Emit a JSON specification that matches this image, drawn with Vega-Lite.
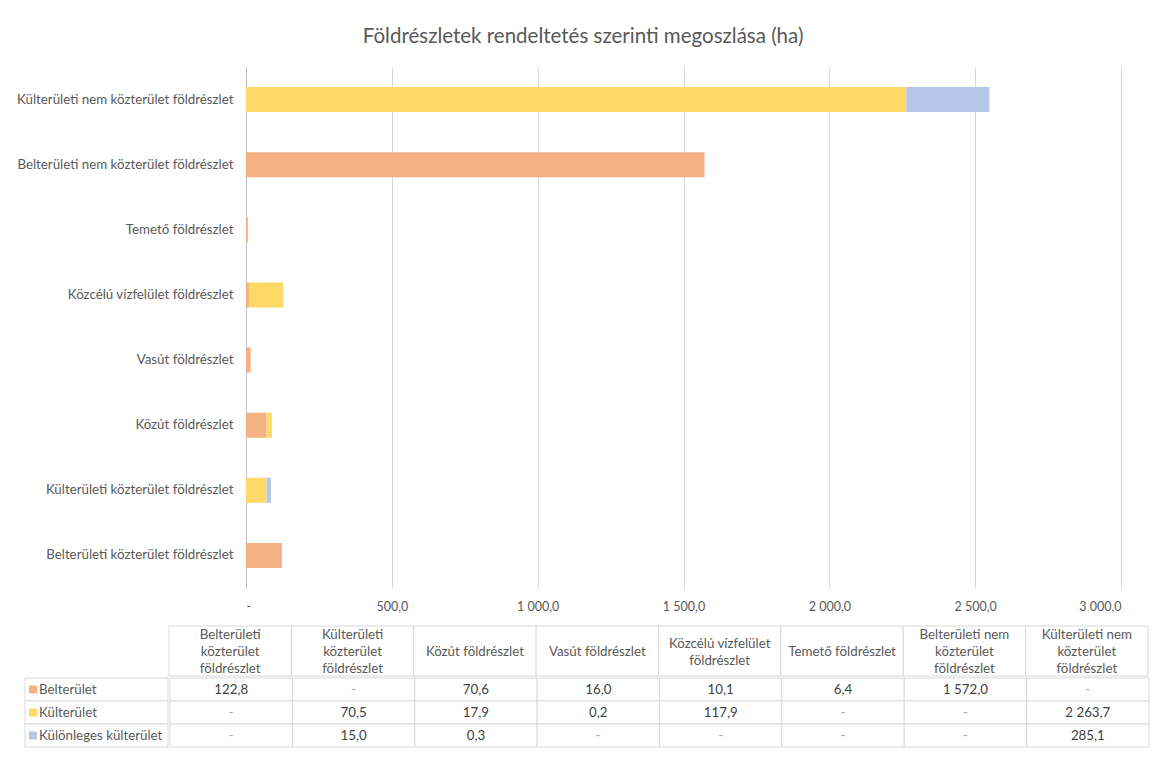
{
  "$schema": "https://vega.github.io/schema/vega-lite/v6.json",
  "padding": {"left": 16, "top": 26, "right": 4, "bottom": 8},
  "background": "white",
  "config": {
    "locale": {"number": {"decimal": ",", "thousands": " ", "grouping": [3], "currency": ["", " Ft"]}},
    "font": "Lato",
    "view": {"stroke": null},
    "text": {"font": "Lato"}
  },
  "title": {"text": "Földrészletek rendeltetés szerinti megoszlása (ha)", "fontSize": 20.5, "font": "Lato", "fontWeight": "normal", "color": "#595959", "offset": 20, "anchor": "middle"},
  "datasets": {
    "d": [
      {"cat": "Belterületi közterület földrészlet", "series": "Belterület", "value": 122.8},
      {"cat": "Belterületi közterület földrészlet", "series": "Külterület", "value": null},
      {"cat": "Belterületi közterület földrészlet", "series": "Különleges külterület", "value": null},
      {"cat": "Külterületi közterület földrészlet", "series": "Belterület", "value": null},
      {"cat": "Külterületi közterület földrészlet", "series": "Külterület", "value": 70.5},
      {"cat": "Külterületi közterület földrészlet", "series": "Különleges külterület", "value": 15.0},
      {"cat": "Közút földrészlet", "series": "Belterület", "value": 70.6},
      {"cat": "Közút földrészlet", "series": "Külterület", "value": 17.9},
      {"cat": "Közút földrészlet", "series": "Különleges külterület", "value": 0.3},
      {"cat": "Vasút földrészlet", "series": "Belterület", "value": 16.0},
      {"cat": "Vasút földrészlet", "series": "Külterület", "value": 0.2},
      {"cat": "Vasút földrészlet", "series": "Különleges külterület", "value": null},
      {"cat": "Közcélú vízfelület földrészlet", "series": "Belterület", "value": 10.1},
      {"cat": "Közcélú vízfelület földrészlet", "series": "Külterület", "value": 117.9},
      {"cat": "Közcélú vízfelület földrészlet", "series": "Különleges külterület", "value": null},
      {"cat": "Temető földrészlet", "series": "Belterület", "value": 6.4},
      {"cat": "Temető földrészlet", "series": "Külterület", "value": null},
      {"cat": "Temető földrészlet", "series": "Különleges külterület", "value": null},
      {"cat": "Belterületi nem közterület földrészlet", "series": "Belterület", "value": 1572.0},
      {"cat": "Belterületi nem közterület földrészlet", "series": "Külterület", "value": null},
      {"cat": "Belterületi nem közterület földrészlet", "series": "Különleges külterület", "value": null},
      {"cat": "Külterületi nem közterület földrészlet", "series": "Belterület", "value": null},
      {"cat": "Külterületi nem közterület földrészlet", "series": "Külterület", "value": 2263.7},
      {"cat": "Külterületi nem közterület földrészlet", "series": "Különleges külterület", "value": 285.1}
    ],
    "h": [
      {"cat": "Belterületi közterület földrészlet", "header": "Belterületi\nközterület\nföldrészlet"},
      {"cat": "Külterületi közterület földrészlet", "header": "Külterületi\nközterület\nföldrészlet"},
      {"cat": "Közút földrészlet", "header": "Közút földrészlet"},
      {"cat": "Vasút földrészlet", "header": "Vasút földrészlet"},
      {"cat": "Közcélú vízfelület földrészlet", "header": "Közcélú vízfelület\nföldrészlet"},
      {"cat": "Temető földrészlet", "header": "Temető földrészlet"},
      {"cat": "Belterületi nem közterület földrészlet", "header": "Belterületi nem\nközterület\nföldrészlet"},
      {"cat": "Külterületi nem közterület földrészlet", "header": "Külterületi nem\nközterület\nföldrészlet"}
    ],
    "s": [
      {"series": "Belterület"},
      {"series": "Külterület"},
      {"series": "Különleges külterület"}
    ]
  },
  "spacing": 12,
  "resolve": {"scale": {"x": "independent", "y": "independent", "color": "independent"}},
  "vconcat": [
    {
      "width": 1096,
      "height": 521,
      "data": {"name": "d"},
      "transform": [{"filter": "datum.value != null"}],
      "mark": {"type": "bar"},
      "encoding": {
        "y": {
          "field": "cat", "type": "nominal",
          "sort": ["Külterületi nem közterület földrészlet", "Belterületi nem közterület földrészlet", "Temető földrészlet", "Közcélú vízfelület földrészlet", "Vasút földrészlet", "Közút földrészlet", "Külterületi közterület földrészlet", "Belterületi közterület földrészlet"],
          "scale": {"paddingInner": 0.615, "paddingOuter": 0.3075},
          "axis": {"title": null, "ticks": false, "domain": true, "domainColor": "#bfbfbf", "offset": -221, "labelColor": "#595959", "labelFontSize": 13.3, "labelPadding": 13, "labelLimit": 400}
        },
        "x": {
          "field": "value", "type": "quantitative", "stack": "zero",
          "scale": {"domain": [0, 3000], "nice": false, "range": [221, 1096]},
          "axis": {"title": null, "values": [0, 500, 1000, 1500, 2000, 2500, 3000], "format": ",.1f", "labelExpr": "datum.value == 0 ? '-' : datum.label", "ticks": false, "domain": false, "grid": true, "gridColor": "#d9d9d9", "labelColor": "#595959", "labelFontSize": 12.5, "labelPadding": 12}
        },
        "color": {
          "field": "series", "type": "nominal",
          "scale": {"domain": ["Belterület", "Külterület", "Különleges külterület"], "range": ["#F4B183", "#FFD966", "#B4C7E7"]},
          "legend": null
        }
      }
    },
    {
      "spacing": 0,
      "resolve": {"scale": {"x": "independent", "y": "independent", "color": "independent"}},
      "vconcat": [
        {
          "spacing": 0,
          "resolve": {"scale": {"x": "independent", "y": "independent"}},
          "hconcat": [
            {
              "width": 143,
              "height": 50,
              "data": {"values": [{"t": " "}]},
              "mark": {"type": "text", "opacity": 0},
              "encoding": {"text": {"field": "t"}}
            },
            {
              "width": 979,
              "height": 50,
              "data": {"name": "h"},
              "transform": [{"calculate": "length(split(datum.header, '\\n'))", "as": "nlines"}],
              "encoding": {
                "x": {"field": "cat", "type": "nominal", "sort": null, "scale": {"paddingInner": 0, "paddingOuter": 0}, "axis": null}
              },
              "layer": [
                {"mark": {"type": "rect", "fill": "white", "stroke": "#d9d9d9", "strokeWidth": 1}},
                {"transform": [{"filter": "datum.nlines == 1"}],
                 "mark": {"type": "text", "lineBreak": "\n", "lineHeight": 17, "fontSize": 13.3, "color": "#595959", "baseline": "middle", "dy": 1},
                 "encoding": {"text": {"field": "header"}}},
                {"transform": [{"filter": "datum.nlines == 2"}],
                 "mark": {"type": "text", "lineBreak": "\n", "lineHeight": 17, "fontSize": 13.3, "color": "#595959", "baseline": "middle", "dy": -7.5},
                 "encoding": {"text": {"field": "header"}}},
                {"transform": [{"filter": "datum.nlines == 3"}],
                 "mark": {"type": "text", "lineBreak": "\n", "lineHeight": 17, "fontSize": 13.3, "color": "#595959", "baseline": "middle", "dy": -16},
                 "encoding": {"text": {"field": "header"}}}
              ]
            }
          ]
        },
        {
          "spacing": 0,
          "resolve": {"scale": {"x": "independent", "y": "independent", "color": "independent"}},
          "hconcat": [
            {
              "width": 143,
              "height": 69,
              "data": {"name": "s"},
              "encoding": {
                "y": {"field": "series", "type": "nominal", "sort": null, "scale": {"paddingInner": 0, "paddingOuter": 0}, "axis": null}
              },
              "layer": [
                {"mark": {"type": "rect", "fill": "white", "stroke": "#d9d9d9", "strokeWidth": 1}},
                {"mark": {"type": "square", "size": 64, "opacity": 1, "xOffset": 8},
                 "encoding": {
                   "x": {"value": 0},
                   "color": {"field": "series", "type": "nominal", "scale": {"domain": ["Belterület", "Külterület", "Különleges külterület"], "range": ["#F4B183", "#FFD966", "#B4C7E7"]}, "legend": null}
                 }},
                {"mark": {"type": "text", "align": "left", "dx": 14, "fontSize": 13.3, "color": "#595959"},
                 "encoding": {"x": {"value": 0}, "text": {"field": "series"}}}
              ]
            },
            {
              "width": 979,
              "height": 69,
              "data": {"name": "d"},
              "encoding": {
                "x": {"field": "cat", "type": "nominal", "sort": ["Belterületi közterület földrészlet", "Külterületi közterület földrészlet", "Közút földrészlet", "Vasút földrészlet", "Közcélú vízfelület földrészlet", "Temető földrészlet", "Belterületi nem közterület földrészlet", "Külterületi nem közterület földrészlet"], "scale": {"paddingInner": 0, "paddingOuter": 0}, "axis": null},
                "y": {"field": "series", "type": "nominal", "sort": ["Belterület", "Külterület", "Különleges külterület"], "scale": {"paddingInner": 0, "paddingOuter": 0}, "axis": null}
              },
              "layer": [
                {"mark": {"type": "rect", "fill": "white", "stroke": "#d9d9d9", "strokeWidth": 1}},
                {"mark": {"type": "text", "fontSize": 13.3},
                 "encoding": {
                   "text": {"condition": {"test": "datum.value == null", "value": "-"}, "field": "value", "type": "quantitative", "format": ",.1f"},
                   "color": {"condition": {"test": "datum.value == null", "value": "#a6a6a6"}, "value": "#404040"}
                 }}
              ]
            }
          ]
        }
      ]
    }
  ]
}
